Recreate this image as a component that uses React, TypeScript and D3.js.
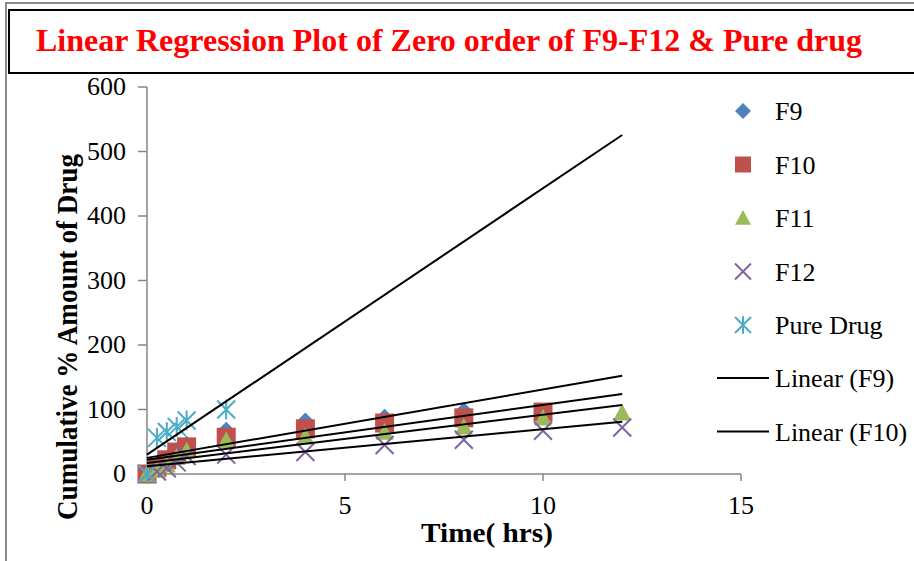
import * as d3 from 'd3';

// hours
const TIMES = [0, 0.25, 0.5, 0.75, 1, 2, 4, 6, 8, 10, 12];
const PURE_TIMES = [0, 0.25, 0.5, 0.75, 1, 2];

// cumulative % drug released (null = no reading)
const F9 = [0, 15, 24, 36, 46, 68, 82, 88, 98, 97, null];
const F10 = [0, 10, 22, 34, 42, 57, 70, 79, 87, 96, null];
const F11 = [0, 6, 14, 26, 36, 52, 58, 65, 73, 87, 95];
const F12 = [0, 4, 9, 18, 28, 30, 34, 45, 53, 67, 72];
const PURE = [0, 56, 65, 73, 83, 100];

const SERIES_NAMES = ['F9', 'F10', 'F11', 'F12', 'Pure Drug'];
const SERIES_COLORS = ['#4F81BD', '#C0504D', '#9BBB59', '#8064A2', '#4BACC6'];
const SERIES_SHAPES = ['diamond', 'square', 'triangle', 'x', 'star'];

// linear trendline coefficients (y = a + b*t), drawn over 0..12 h
const TREND_INTERCEPT = [25, 22, 17, 12, 30];
const TREND_SLOPE = [10.6, 8.5, 7.5, 5.75, 41.3];
const TREND_RANGE = [0, 12];
const TREND_LEGEND = ['Linear (F9)', 'Linear (F10)'];

const X_TICKS = [0, 5, 10, 15];
const Y_TICKS = [0, 100, 200, 300, 400, 500, 600];

const SERIF = '"Liberation Serif", "Times New Roman", serif';
const AXIS = '#868686';

function markerPath(shape: string, r: number) {
  const p = d3.path();
  if (shape === 'diamond') {
    p.moveTo(0, -r); p.lineTo(r, 0); p.lineTo(0, r); p.lineTo(-r, 0); p.closePath();
  } else if (shape === 'square') {
    p.rect(-r, -r, 2 * r, 2 * r);
  } else if (shape === 'triangle') {
    p.moveTo(0, -r); p.lineTo(r, r * 0.85); p.lineTo(-r, r * 0.85); p.closePath();
  } else if (shape === 'x') {
    p.moveTo(-r, -r); p.lineTo(r, r); p.moveTo(r, -r); p.lineTo(-r, r);
  } else {
    p.moveTo(-r, -r); p.lineTo(r, r); p.moveTo(r, -r); p.lineTo(-r, r);
    p.moveTo(0, -r * 1.1); p.lineTo(0, r * 1.1);
  }
  return p.toString();
}

function Marker({ shape, color, x, y, r }: { shape: string; color: string; x: number; y: number; r: number }) {
  const stroked = shape === 'x' || shape === 'star';
  return (
    <path
      d={markerPath(shape, r)}
      transform={`translate(${x},${y})`}
      fill={stroked ? 'none' : color}
      stroke={stroked ? color : 'none'}
      strokeWidth={stroked ? 2 : 0}
    />
  );
}

export default function App() {
  const x = d3.scaleLinear().domain([0, 15]).range([147, 741]);
  const y = d3.scaleLinear().domain([0, 600]).range([474, 87]);

  const series = [F9, F10, F11, F12, PURE];
  const seriesTimes = [TIMES, TIMES, TIMES, TIMES, PURE_TIMES];

  return (
    <svg width={914} height={561} style={{ position: 'absolute', left: 0, top: 0, background: '#fff' }}>
      {/* page frame */}
      <line x1={5} x2={914} y1={3} y2={3} stroke="#8a8a8a" strokeWidth={2} />
      <line x1={6} x2={6} y1={3} y2={561} stroke="#8a8a8a" strokeWidth={2} />

      {/* title box */}
      <rect x={9} y={10} width={920} height={63} fill="#fff" stroke="#000" strokeWidth={2} />
      <text
        x={36}
        y={51}
        fontFamily={SERIF}
        fontWeight="bold"
        fontSize={31}
        fill="#FF0000"
        textLength={826}
        lengthAdjust="spacingAndGlyphs"
      >
        Linear Regression Plot of Zero order of F9-F12 &amp; Pure drug
      </text>

      {/* axes */}
      <line x1={x(0)} x2={x(0)} y1={y(600)} y2={y(0)} stroke={AXIS} strokeWidth={1.5} />
      <line x1={x(0)} x2={x(15)} y1={y(0)} y2={y(0)} stroke={AXIS} strokeWidth={1.5} />
      {Y_TICKS.map(v => (
        <g key={'y' + v}>
          <line x1={x(0) - 9} x2={x(0)} y1={y(v)} y2={y(v)} stroke={AXIS} strokeWidth={1.5} />
          <text x={126} y={y(v) + 8} textAnchor="end" fontFamily={SERIF} fontSize={26} fill="#000">
            {v}
          </text>
        </g>
      ))}
      {X_TICKS.map(v => (
        <g key={'x' + v}>
          <line x1={x(v)} x2={x(v)} y1={y(0)} y2={y(0) + 7} stroke={AXIS} strokeWidth={1.5} />
          <text x={x(v)} y={514} textAnchor="middle" fontFamily={SERIF} fontSize={26} fill="#000">
            {v}
          </text>
        </g>
      ))}

      <text
        x={487}
        y={542}
        textAnchor="middle"
        fontFamily={SERIF}
        fontWeight="bold"
        fontSize={28}
        fill="#000"
        textLength={132}
        lengthAdjust="spacingAndGlyphs"
      >
        Time( hrs)
      </text>
      <text
        transform="translate(77,337) rotate(-90)"
        textAnchor="middle"
        fontFamily={SERIF}
        fontWeight="bold"
        fontSize={29}
        fill="#000"
        textLength={366}
        lengthAdjust="spacingAndGlyphs"
      >
        Cumulative % Amount of Drug
      </text>

      {/* data points */}
      {series.map((vals, si) =>
        vals.map((v, i) =>
          v == null ? null : (
            <Marker
              key={si + '-' + i}
              shape={SERIES_SHAPES[si]}
              color={SERIES_COLORS[si]}
              x={x(seriesTimes[si][i])}
              y={y(v)}
              r={si === 0 ? 8.5 : si === 1 ? 9.5 : 9}
            />
          )
        )
      )}

      {/* trendlines */}
      {TREND_INTERCEPT.map((a, si) => {
        const path = d3
          .line<number>()
          .x(t => x(t))
          .y(t => y(a + TREND_SLOPE[si] * t))(TREND_RANGE);
        return <path key={'t' + si} d={path || ''} fill="none" stroke="#000" strokeWidth={2} />;
      })}

      {/* legend */}
      {SERIES_NAMES.map((name, i) => {
        const cy = 111 + i * 53.5;
        return (
          <g key={'l' + name}>
            <Marker shape={SERIES_SHAPES[i]} color={SERIES_COLORS[i]} x={743} y={cy} r={8} />
            <text x={775} y={cy + 9} fontFamily={SERIF} fontSize={26} fill="#000">
              {name}
            </text>
          </g>
        );
      })}
      {TREND_LEGEND.map((name, i) => {
        const cy = 378 + i * 53.5;
        return (
          <g key={'tl' + name}>
            <line x1={717} x2={769} y1={cy} y2={cy} stroke="#000" strokeWidth={2} />
            <text x={775} y={cy + 9} fontFamily={SERIF} fontSize={26} fill="#000">
              {name}
            </text>
          </g>
        );
      })}
    </svg>
  );
}
